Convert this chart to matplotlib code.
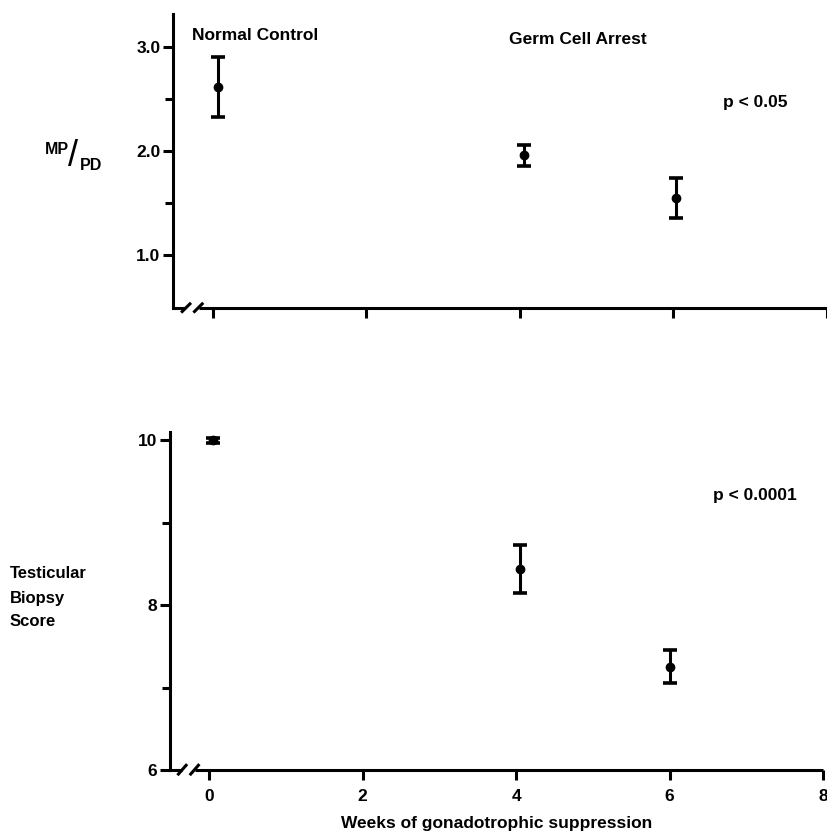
import matplotlib.pyplot as plt
from matplotlib.lines import Line2D

plt.rcParams['font.family'] = ['Liberation Sans', 'DejaVu Sans']
plt.rcParams['font.weight'] = 'bold'

# weeks of gonadotrophic suppression
weeks = [0.07, 4.05, 6.03]

# MP/PD ratio, mean and error
mp_pd_mean = [2.62, 1.96, 1.55]
mp_pd_err = [0.29, 0.10, 0.19]

# testicular biopsy score, mean and error
biopsy_weeks = [0.05, 4.05, 6.0]
biopsy_mean = [10.0, 8.44, 7.25]
biopsy_err = [0.03, 0.29, 0.20]

x_ticks = [0, 2, 4, 6, 8]
mp_ticks = [1.0, 2.0, 3.0]
mp_minor = [1.5, 2.5]
biopsy_ticks = [6, 8, 10]
biopsy_minor = [7, 9]

W, H = 828, 834
LW = 2.2
FS = 12.5


def px(x, y):
    return x / W, 1 - y / H


def style_axis(ax, xmin):
    ax.spines['top'].set_visible(False)
    ax.spines['right'].set_visible(False)
    ax.spines['bottom'].set_visible(False)
    ax.spines['left'].set_linewidth(LW)
    ax.tick_params(axis='y', direction='out', length=7, width=LW, labelsize=12.5, pad=2)
    ax.tick_params(axis='y', which='minor', direction='out', length=6, width=LW)
    ax.tick_params(axis='x', direction='out', length=7, width=LW, labelsize=12.5, pad=7)
    for lab in ax.get_xticklabels() + ax.get_yticklabels():
        lab.set_fontweight('bold')
    # broken x axis: short stub, two slashes, then the rest of the line
    tr = ax.get_xaxis_transform()
    ax.plot([xmin, -0.36], [0, 0], color='black', lw=LW, transform=tr, clip_on=False,
            solid_capstyle='butt')
    ax.plot([-0.18, 8.0], [0, 0], color='black', lw=LW, transform=tr, clip_on=False,
            solid_capstyle='butt')
    for x0 in (-0.40, -0.24):
        ax.add_line(Line2D([x0, x0 + 0.1], [-0.012, 0.014], color='black', lw=LW,
                           transform=tr, clip_on=False))


def draw_points(ax, xs, ys, es):
    ax.errorbar(xs, ys, yerr=es, fmt='o', color='black', ms=6, elinewidth=2.2,
                capsize=4.7, capthick=2.6, clip_on=False)


fig = plt.figure(figsize=(8.28, 8.34), dpi=100)

# upper panel: MP/PD
l, b = px(173, 308)
r, t = px(827, 14)
ax1 = fig.add_axes([l, b, r - l, t - b])
draw_points(ax1, weeks, mp_pd_mean, mp_pd_err)
ax1.set_xlim(-0.52, 8.0)
ax1.set_ylim(0.49, 3.32)
ax1.set_yticks(mp_ticks)
ax1.set_yticklabels(['%.1f' % v for v in mp_ticks])
ax1.set_yticks(mp_minor, minor=True)
ax1.set_xticks(x_ticks)
ax1.set_xticklabels([])
style_axis(ax1, -0.52)
ax1.text(-0.27, 3.115, 'Normal Control', fontsize=FS, fontweight='bold', ha='left', va='center')
ax1.text(3.86, 3.07, 'Germ Cell Arrest', fontsize=FS, fontweight='bold', ha='left', va='center')
ax1.text(6.65, 2.47, 'p < 0.05', fontsize=FS, fontweight='bold', ha='left', va='center')

# y label MP/PD
fig.text(*px(45, 149), 'MP', fontsize=11.5, fontweight='bold', ha='left', va='center')
fig.text(*px(73, 156), '/', fontsize=26, fontweight='normal', ha='center', va='center')
fig.text(*px(80, 166), 'PD', fontsize=11.5, fontweight='bold', ha='left', va='center')

# lower panel: testicular biopsy score
l, b = px(170, 770)
r, t = px(823, 432)
ax2 = fig.add_axes([l, b, r - l, t - b])
draw_points(ax2, biopsy_weeks, biopsy_mean, biopsy_err)
ax2.set_xlim(-0.51, 8.0)
ax2.set_ylim(6.0, 10.1)
ax2.set_yticks(biopsy_ticks)
ax2.set_yticklabels([str(v) for v in biopsy_ticks])
ax2.set_yticks(biopsy_minor, minor=True)
ax2.set_xticks(x_ticks)
ax2.set_xticklabels([str(v) for v in x_ticks])
style_axis(ax2, -0.51)
ax2.text(6.57, 9.33, 'p < 0.0001', fontsize=FS, fontweight='bold', ha='left', va='center')
ax2.set_xlabel('Weeks of gonadotrophic suppression', fontsize=FS, fontweight='bold',
               labelpad=8)

fig.text(*px(10, 598), 'Testicular\nBiopsy\nScore', fontsize=12, fontweight='bold',
         ha='left', va='center', linespacing=1.75)

fig.savefig('out.png', dpi=100, facecolor='white')
